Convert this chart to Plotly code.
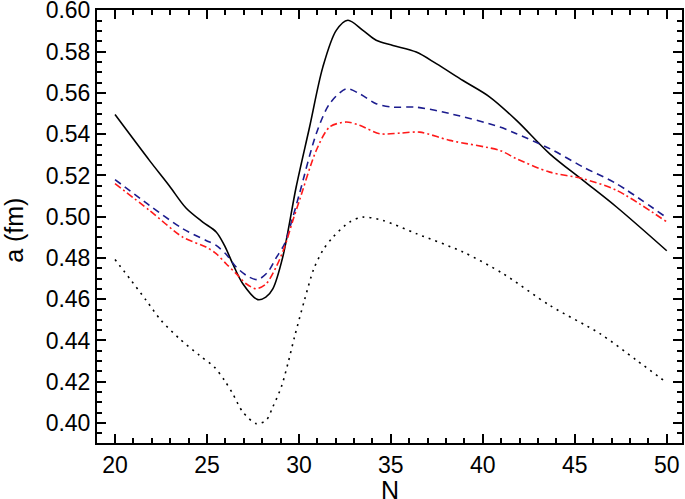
import plotly.graph_objects as go

# black solid curve
n_solid = [20, 21.87, 22.95, 23.86, 24.77, 25.5, 25.95, 26.4, 26.95, 27.76, 28.2, 28.58, 29.12,
           29.85, 30.58, 31.3, 32.03, 32.66, 33.48, 34.2, 35.11, 36.38, 37.47, 38.92, 40.38,
           41.83, 43.64, 45.45, 47.27, 50]
a_solid = [0.5495, 0.5273, 0.5150, 0.5042, 0.4974, 0.4926, 0.4861, 0.4772, 0.4675, 0.4598,
           0.4610, 0.4650, 0.4804, 0.5144, 0.5435, 0.5725, 0.5903, 0.5952, 0.5903, 0.5855, 0.583,
           0.5798, 0.5742, 0.566, 0.558, 0.5467, 0.5305, 0.5176, 0.5047, 0.4835]

# blue dashed curve
n_dash = [20, 21.87, 23.68, 24.95, 25.5, 26.04, 26.59, 27.22, 27.76, 28.31, 28.76, 29.22, 29.67,
          30.03, 30.94, 31.67, 32.57, 33.3, 34.2, 35.11, 36.38, 38.2, 40.93, 41.83, 43.64, 45.45,
          47.27, 50]
a_dash = [0.518, 0.5055, 0.4942, 0.4885, 0.4861, 0.4818, 0.4756, 0.4711, 0.4695, 0.4732, 0.48,
          0.4869, 0.4998, 0.5112, 0.5402, 0.5548, 0.562, 0.5596, 0.5548, 0.5531, 0.5531, 0.55,
          0.5435, 0.5402, 0.533, 0.5241, 0.516, 0.4995]

# red dash-dot curve
n_dashdot = [20, 21.87, 23.68, 24.95, 25.5, 26.04, 26.59, 27.13, 27.67, 28.22, 28.76, 29.22,
             29.67, 30.03, 30.94, 31.67, 32.57, 33.3, 34.39, 35.48, 36.57, 38.2, 40.93, 41.83,
             43.64, 45.45, 47.27, 50]
a_dashdot = [0.516, 0.5031, 0.4901, 0.4853, 0.4821, 0.4772, 0.4724, 0.4675, 0.4651, 0.4675,
             0.4756, 0.4853, 0.4982, 0.5079, 0.5321, 0.5435, 0.5459, 0.5443, 0.5402, 0.5405,
             0.541, 0.537, 0.5321, 0.5281, 0.5216, 0.5184, 0.5128, 0.4975]

# black dotted curve
n_dot = [20, 20.87, 21.69, 22.5, 23.5, 24.59, 25.4, 25.95, 26.4, 26.95, 27.68, 28.22, 28.58,
         29.04, 29.4, 29.76, 30.3, 30.8, 31.3, 31.85, 32.75, 33.48, 34.57, 36.38, 38.92, 41.1,
         43.64, 46.37, 48.36, 50]
a_dot = [0.4792, 0.4692, 0.4595, 0.4498, 0.4409, 0.4328, 0.4271, 0.4207, 0.4142, 0.4053, 0.3997,
         0.4013, 0.4078, 0.4174, 0.4288, 0.4417, 0.4595, 0.4745, 0.4837, 0.4901, 0.4974, 0.4998,
         0.4982, 0.4918, 0.4829, 0.4724, 0.457, 0.4433, 0.4304, 0.4195]

fig = go.Figure()
fig.add_trace(go.Scatter(x=n_solid, y=a_solid, mode="lines",
                         line=dict(color="black", width=1.6, shape="spline", smoothing=0.9)))
fig.add_trace(go.Scatter(x=n_dash, y=a_dash, mode="lines",
                         line=dict(color="#1c1c8e", width=1.6, shape="spline", smoothing=0.8,
                                   dash="7px,5px")))
fig.add_trace(go.Scatter(x=n_dashdot, y=a_dashdot, mode="lines",
                         line=dict(color="#ff1a1a", width=1.6, shape="spline", smoothing=0.8,
                                   dash="7px,3px,2px,3px")))
fig.add_trace(go.Scatter(x=n_dot, y=a_dot, mode="lines",
                         line=dict(color="black", width=1.6, shape="spline", smoothing=0.8,
                                   dash="2px,5px")))

axis_common = dict(showline=True, linecolor="black", linewidth=2, mirror="allticks",
                   ticks="inside", ticklen=9, tickwidth=2, tickcolor="black",
                   showgrid=False, zeroline=False, automargin=False,
                   ticklabeloverflow="allow",
                   tickfont=dict(family="Liberation Sans, Arial", size=23, color="black"))

fig.update_xaxes(range=[19.02, 50.83], tick0=20, dtick=5,
                 minor=dict(ticks="inside", dtick=1, ticklen=5, tickwidth=1.5, tickcolor="black"),
                 **axis_common)
fig.update_yaxes(range=[0.3903, 0.6002], tick0=0.4, dtick=0.02, tickformat=".2f",
                 minor=dict(ticks="inside", dtick=0.005, ticklen=5, tickwidth=1.5, tickcolor="black"),
                 **axis_common)

# axis titles placed as annotations so they sit where the original has them
title_font = dict(family="Liberation Sans, Arial", size=25, color="black")
fig.add_annotation(text="a (fm)", textangle=-90, xref="paper", yref="paper", x=0, y=0.49,
                   xanchor="center", yanchor="middle", xshift=-83, showarrow=False,
                   font=title_font)
fig.add_annotation(text="N", xref="paper", yref="paper", x=0.5, y=0,
                   xanchor="center", yanchor="middle", yshift=-47, showarrow=False,
                   font=title_font)

fig.update_layout(width=685, height=499, showlegend=False,
                  margin=dict(l=97, r=3, t=10, b=56),
                  paper_bgcolor="white", plot_bgcolor="white")
# page body has a default 8px margin; drop it so the figure sits at the window corner
fig.write_html("out.html", config={"displayModeBar": False},
               post_script="document.body.style.margin='0';")
